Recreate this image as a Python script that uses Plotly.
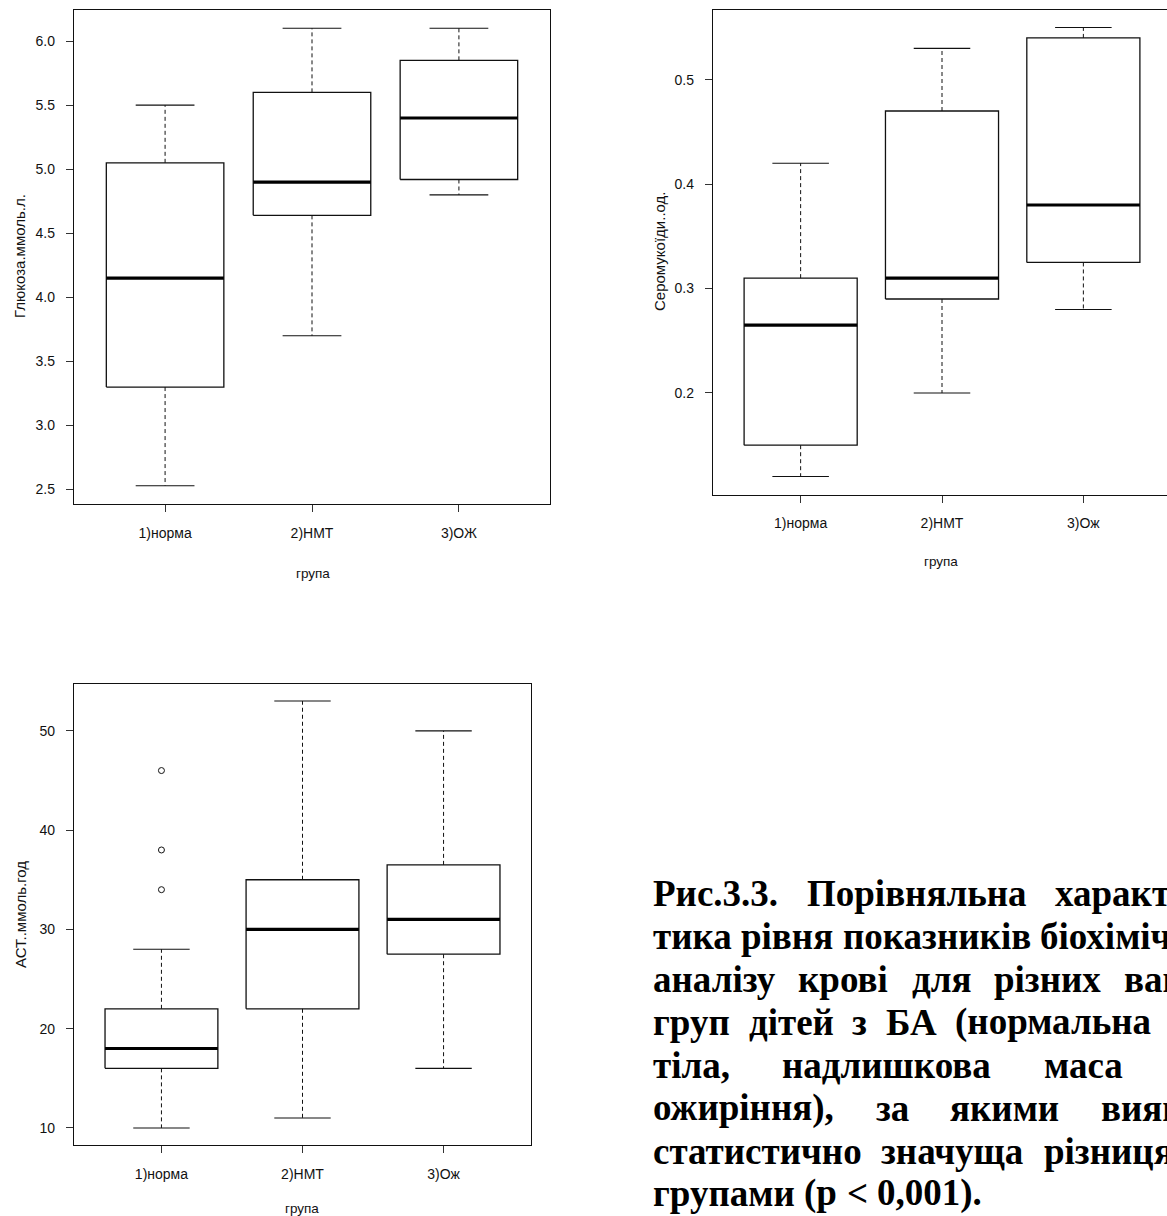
import os
import struct
import plotly.graph_objects as go

# ---------------- data ----------------
groups_glu = ["1)норма", "2)НМТ", "3)ОЖ"]
groups_ser = ["1)норма", "2)НМТ", "3)Ож"]
groups_ast = ["1)норма", "2)НМТ", "3)Ож"]

glu_low = [2.53, 3.70, 4.80]
glu_q1 = [3.30, 4.64, 4.92]
glu_med = [4.15, 4.90, 5.40]
glu_q3 = [5.05, 5.60, 5.85]
glu_high = [5.50, 6.10, 6.10]
glu_ticks = [2.5, 3.0, 3.5, 4.0, 4.5, 5.0, 5.5, 6.0]

ser_low = [0.12, 0.20, 0.28]
ser_q1 = [0.15, 0.29, 0.325]
ser_med = [0.265, 0.31, 0.38]
ser_q3 = [0.31, 0.47, 0.54]
ser_high = [0.42, 0.53, 0.55]
ser_ticks = [0.2, 0.3, 0.4, 0.5]

ast_low = [10, 11, 16]
ast_q1 = [16, 22, 27.5]
ast_med = [18, 30, 31]
ast_q3 = [22, 35, 36.5]
ast_high = [28, 53, 50]
ast_out_group = [1, 1, 1]
ast_out_value = [34, 38, 46]
ast_ticks = [10, 20, 30, 40, 50]

title_glu = "Глюкоза.ммоль.л."
title_ser = "Серомукоїди..од."
title_ast = "АСТ..ммоль.год"
title_x = "група"

caption_lines = [
    ["Рис.3.3.", "Порівняльна", "характерис-"],
    ["тика", "рівня", "показників", "біохімічного"],
    ["аналізу", "крові", "для", "різних", "вагових"],
    ["груп", "дітей", "з", "БА", "(нормальна"],
    ["тіла,", "надлишкова", "маса"],
    ["ожиріння),", "за", "якими", "виявлена"],
    ["статистично", "значуща", "різниця"],
    ["групами", "(р", "<", "0,001)."],
]

# ---------------- layout constants ----------------
W, H = 1167, 1216
CAP_LEFT = 651
CAP_SIZE = 37
caption_y = [893, 936, 979, 1022, 1065, 1108, 1151, 1193]
# justification anchors: (word index, visible prefix length, x where that prefix ends)
caption_anchor = [(2, 6, 1169), (3, 7, 1150), (4, 2, 1160), (4, 10, 1150),
                  (3, 0, 1172), (3, 3, 1160), (2, 6, 1152), None]

BOX_HALF = 0.4
CAP_HALF = 0.2
LINE_COL = "#111111"
SANS = "Liberation Sans, Arial, sans-serif"
SERIF = "Liberation Serif, Times New Roman, serif"


# ---------- text width measurement (for justified caption) ----------
FALLBACK_EM = {
    "а": .5, "б": .5, "в": .525, "г": .45, "д": .56, "е": .444, "ж": .8, "з": .44,
    "и": .58, "й": .58, "і": .278, "к": .54, "л": .56, "м": .69, "н": .58, "о": .5,
    "п": .58, "р": .556, "с": .444, "т": .48, "у": .5, "х": .5, "ц": .58, "ч": .56,
    "ш": .85, "щ": .85, "ь": .5, "ю": .78, "я": .54, "Р": .611, "П": .778, "Б": .667,
    "А": .722, ".": .25, ",": .25, "(": .333, ")": .333, "<": .57, " ": .25, "-": .333,
}


def find_font(name):
    for d in ["/usr/share/fonts", "/usr/local/share/fonts", os.path.expanduser("~/.fonts"),
              os.path.expanduser("~/.local/share/fonts")]:
        if os.path.isdir(d):
            for root, _, files in os.walk(d):
                if name in files:
                    return os.path.join(root, name)
    return None


def make_measure(path):
    data = open(path, "rb").read()
    ntab = struct.unpack(">H", data[4:6])[0]
    tables = {}
    for i in range(ntab):
        tag, _, off, ln = struct.unpack(">4sIII", data[12 + 16 * i:28 + 16 * i])
        tables[tag.decode("latin1")] = off
    upem = struct.unpack(">H", data[tables["head"] + 18:tables["head"] + 20])[0]
    nhm = struct.unpack(">H", data[tables["hhea"] + 34:tables["hhea"] + 36])[0]
    hoff = tables["hmtx"]
    adv = [struct.unpack(">H", data[hoff + 4 * i:hoff + 4 * i + 2])[0] for i in range(nhm)]
    coff = tables["cmap"]
    nsub = struct.unpack(">H", data[coff + 2:coff + 4])[0]
    sub = None
    for i in range(nsub):
        pid, eid, so = struct.unpack(">HHI", data[coff + 4 + 8 * i:coff + 12 + 8 * i])
        if struct.unpack(">H", data[coff + so:coff + so + 2])[0] == 4 and (pid, eid) in ((3, 1), (0, 3), (0, 4)):
            sub = coff + so
            break
    segx2 = struct.unpack(">H", data[sub + 6:sub + 8])[0]
    nseg = segx2 // 2
    ends = struct.unpack(">%dH" % nseg, data[sub + 14:sub + 14 + segx2])
    starts = struct.unpack(">%dH" % nseg, data[sub + 16 + segx2:sub + 16 + 2 * segx2])
    deltas = struct.unpack(">%dh" % nseg, data[sub + 16 + 2 * segx2:sub + 16 + 3 * segx2])
    rpos = sub + 16 + 3 * segx2
    roffs = struct.unpack(">%dH" % nseg, data[rpos:rpos + segx2])

    def glyph(c):
        for k in range(nseg):
            if ends[k] >= c:
                if starts[k] > c:
                    return 0
                if roffs[k] == 0:
                    return (c + deltas[k]) & 0xFFFF
                addr = rpos + 2 * k + roffs[k] + 2 * (c - starts[k])
                g = struct.unpack(">H", data[addr:addr + 2])[0]
                return (g + deltas[k]) & 0xFFFF if g else 0
        return 0

    def measure(s, size):
        return sum(adv[min(glyph(ord(ch)), nhm - 1)] for ch in s) / upem * size
    return measure


def fallback_measure(s, size):
    return sum(FALLBACK_EM.get(ch, 0.5) for ch in s) * size


try:
    _fp = find_font("LiberationSerif-Bold.ttf")
    text_width = make_measure(_fp) if _fp else fallback_measure
    text_width("Рис", 10)
except Exception:
    text_width = fallback_measure

# ---------------- figure ----------------
fig = go.Figure()


def add_boxes(xa, ya, low, q1, med, q3, high):
    bx, by, mx, my, wx, wy, cx, cy = [], [], [], [], [], [], [], []
    for i in range(len(med)):
        x = i + 1
        bx += [x - BOX_HALF, x + BOX_HALF, x + BOX_HALF, x - BOX_HALF, x - BOX_HALF, None]
        by += [q1[i], q1[i], q3[i], q3[i], q1[i], None]
        mx += [x - BOX_HALF, x + BOX_HALF, None]
        my += [med[i], med[i], None]
        wx += [x, x, None, x, x, None]
        wy += [q3[i], high[i], None, q1[i], low[i], None]
        cx += [x - CAP_HALF, x + CAP_HALF, None, x - CAP_HALF, x + CAP_HALF, None]
        cy += [high[i], high[i], None, low[i], low[i], None]
    common = dict(xaxis=xa, yaxis=ya, mode="lines", showlegend=False, hoverinfo="skip")
    fig.add_trace(go.Scatter(x=wx, y=wy, line=dict(color=LINE_COL, width=1, dash="4px,3px"), **common))
    fig.add_trace(go.Scatter(x=cx, y=cy, line=dict(color=LINE_COL, width=1.1), **common))
    fig.add_trace(go.Scatter(x=bx, y=by, line=dict(color=LINE_COL, width=1.3), **common))
    fig.add_trace(go.Scatter(x=mx, y=my, line=dict(color="#000000", width=3.2), **common))


add_boxes("x", "y", glu_low, glu_q1, glu_med, glu_q3, glu_high)
add_boxes("x2", "y2", ser_low, ser_q1, ser_med, ser_q3, ser_high)
add_boxes("x3", "y3", ast_low, ast_q1, ast_med, ast_q3, ast_high)
fig.add_trace(go.Scatter(
    x=ast_out_group, y=ast_out_value, xaxis="x3", yaxis="y3", mode="markers",
    marker=dict(symbol="circle-open", size=6, color=LINE_COL, line=dict(width=1)),
    showlegend=False, hoverinfo="skip"))


def yrange(vals):
    lo, hi = min(vals), max(vals)
    pad = 0.04 * (hi - lo)
    return [lo - pad, hi + pad]


def xaxis_style(domain, labels, rng, anchor, mirror=True):
    return dict(domain=domain, anchor=anchor, range=rng, tickmode="array",
                tickvals=[1, 2, 3], ticktext=labels, ticks="outside", ticklen=7,
                tickwidth=1, tickcolor="#333333", showline=True, mirror=mirror,
                linecolor=LINE_COL, linewidth=1.3, showgrid=False, zeroline=False,
                tickfont=dict(family=SANS, size=14, color="#111111"),
                ticklabelstandoff=9, fixedrange=True)


def yaxis_style(domain, ticks, fmt, rng, anchor, mirror=True):
    return dict(domain=domain, anchor=anchor, range=rng, tickmode="array",
                tickvals=ticks, ticktext=[fmt.format(t) for t in ticks],
                ticks="outside", ticklen=7, tickwidth=1, tickcolor="#333333",
                showline=True, mirror=mirror, linecolor=LINE_COL, linewidth=1.3,
                showgrid=False, zeroline=False,
                tickfont=dict(family=SANS, size=14, color="#111111"),
                ticklabelstandoff=8, fixedrange=True)


# plot 2 runs past the right edge of the page
p2_left, p2_full_right = 713, 1171
x2_end = 0.38 + 3.24 * (W - p2_left) / (p2_full_right - p2_left)

fig.update_layout(
    width=W, height=H, margin=dict(l=0, r=0, t=0, b=0),
    paper_bgcolor="white", plot_bgcolor="white",
    xaxis=xaxis_style([74 / W, 550 / W], groups_glu, [0.38, 3.62], "y"),
    yaxis=yaxis_style([1 - 504 / H, 1 - 10 / H], glu_ticks, "{:.1f}",
                      yrange(glu_low + glu_high), "x"),
    xaxis2=xaxis_style([p2_left / W, 1.0], groups_ser, [0.38, x2_end], "y2"),
    yaxis2=yaxis_style([1 - 494.5 / H, 1 - 9.5 / H], ser_ticks, "{:.1f}",
                       yrange(ser_low + ser_high), "x2", mirror=False),
    xaxis3=xaxis_style([74 / W, 531 / W], groups_ast, [0.38, 3.62], "y3"),
    yaxis3=yaxis_style([1 - 1145 / H, 1 - 684 / H], ast_ticks, "{:d}",
                       yrange(ast_low + ast_high + ast_out_value), "x3"),
)

ann = []
# axis titles
for txt, px, py in [(title_glu, 19, 256), (title_ser, 659, 252), (title_ast, 20, 915)]:
    ann.append(dict(text=txt, x=px / W, y=1 - py / H, xref="paper", yref="paper",
                    xanchor="center", yanchor="middle", showarrow=False, textangle=-90,
                    font=dict(family=SANS, size=15, color="#111111")))
for px, py in [(313, 573), (941, 561), (302, 1208)]:
    ann.append(dict(text=title_x, x=px / W, y=1 - py / H, xref="paper", yref="paper",
                    xanchor="center", yanchor="middle", showarrow=False,
                    font=dict(family=SANS, size=13.5, color="#111111")))

# caption: justified paragraph, each word placed separately
for words, py, anchor in zip(caption_lines, caption_y, caption_anchor):
    widths = [text_width(w, CAP_SIZE) for w in words]
    if anchor is None:
        gap = text_width(" ", CAP_SIZE)
    else:
        k, nvis, x_end = anchor
        used = sum(widths[:k])
        if k < len(words):
            used += text_width(words[k][:nvis], CAP_SIZE)
        gap = (x_end - CAP_LEFT - used) / k
    xpos = CAP_LEFT
    for w, wd in zip(words, widths):
        if xpos < W:
            ann.append(dict(text=w, x=xpos / W, y=1 - py / H, xref="paper", yref="paper",
                            xanchor="left", yanchor="middle", showarrow=False,
                            font=dict(family=SERIF, size=CAP_SIZE, color="#000000",
                                      weight="bold")))
        xpos += wd + gap
fig.update_layout(annotations=ann)

fig.write_html("out.html")
